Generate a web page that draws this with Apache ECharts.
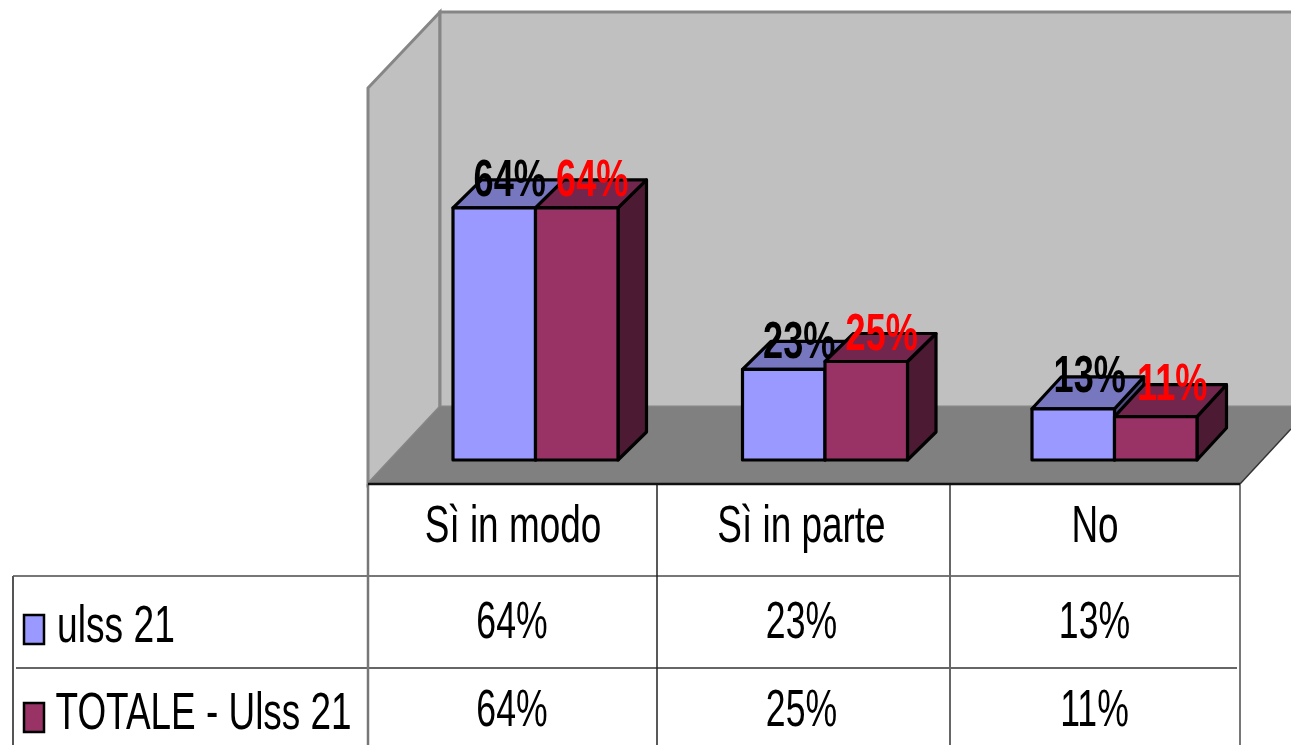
<!DOCTYPE html>
<html>
<head>
<meta charset="utf-8">
<style>html,body{margin:0;padding:0;background:#fff;overflow:hidden}#c{width:1291px;height:745px}</style>
<script src="https://cdn.jsdelivr.net/npm/echarts@6/dist/echarts.min.js"></script>
</head>
<body>
<div id="c"></div>
<script>
const categories = ['Sì in modo', 'Sì in parte', 'No'];
const seriesNames = ['ulss 21', 'TOTALE - Ulss 21'];
const ulss21 = [64, 23, 13];
const totale = [64, 25, 11];

const FONT = '"Liberation Sans", Arial, sans-serif';
const FS = 52;
const palette = [
  {front:'#9999ff', top:'#7777c0', side:'#4d4d80', label:'#000000'},
  {front:'#993366', top:'#73264d', side:'#4d1a33', label:'#ff0000'}
];
const BAR = 82.5;
const depthX = [28.5, 28.5, 29.5];
const depthY = [28, 28, 32];
const labelDX = [15.5, 15.5, 16.5];
const labelDY = [-26, -26, -31];

function scaledText(x, y, text, fill, sx) {
  return {type:'text', x, y, scaleX:sx, z:5, silent:true,
    style:{x:0, y:0, text, fill, font:FS+'px '+FONT, textAlign:'center', textVerticalAlign:'middle'}};
}
function poly(points, fill, stroke, w) {
  return {type:'polygon', z:0, silent:true, shape:{points}, style:{fill, stroke:stroke||null, lineWidth:w||0, lineJoin:'miter'}};
}
function line(x1,y1,x2,y2,stroke,w) {
  return {type:'line', z:1, silent:true, shape:{x1,y1,x2,y2}, style:{stroke, lineWidth:w}};
}
function boxRenderer(si) {
  return function(params, api) {
    const c = palette[si];
    const i = api.value(0);
    const DX = depthX[i], DY = depthY[i];
    const p0 = api.coord([i, 0]);
    const p1 = api.coord([i, api.value(1)]);
    const xl = p0[0] + (si === 0 ? -BAR : 0), xr = xl + BAR, yb = p0[1], yt = p1[1];
    const st = {stroke:'#000', lineWidth:3.2, lineJoin:'round'};
    const mk = (pts, fill) => ({type:'polygon', shape:{points:pts}, style:Object.assign({fill}, st)});
    return {type:'group', children:[
      mk([[xr,yb],[xr+DX,yb-DY],[xr+DX,yt-DY],[xr,yt]], c.side),
      mk([[xl,yt],[xl+DX,yt-DY],[xr+DX,yt-DY],[xr,yt]], c.top),
      mk([[xl,yb],[xr,yb],[xr,yt],[xl,yt]], c.front),
      {type:'text', x:(xl+xr)/2+labelDX[i], y:yt+labelDY[i], scaleX:0.695,
        style:{x:0, y:0, text:api.value(1)+'%', fill:c.label, font:'bold '+FS+'px '+FONT, textAlign:'center', textVerticalAlign:'middle'}}
    ]};
  };
}

const colX = [368, 657, 950, 1240];
const colStroke = [['#777',2.5],['#222',1.5],['#666',2],['#777',2]];
const headerX = [513, 801.5, 1095];
const valueX = [512, 801.5, 1094.5];
const rowY = [528, 624, 712];
const legendY = [628, 715];
const swatchY = [615, 703];
const graphics = [
  poly([[368,88],[440,12],[440,407],[368,484]], '#c0c0c0', '#868686', 3),
  poly([[440,12],[1295,12],[1295,407],[440,407]], '#c0c0c0', '#868686', 3),
  poly([[368,484],[440,407],[1291,407],[1291,429],[1240,484]], '#808080'),
  line(1240,484,1291,429,'#333',1.5),
  line(13,576,1240,576,'#777',2),
  line(16,668,1237,668,'#333',1.5),
  line(13,576,13,745,'#555',2)
];
colX.forEach((x,i) => graphics.push(line(x,484,x,745,colStroke[i][0],colStroke[i][1])));
graphics.push(line(368,484,1240,484,'#111',2.5));
categories.forEach((name,i) => {
  graphics.push(scaledText(headerX[i], rowY[0], name, '#000', 0.71));
  graphics.push(scaledText(valueX[i], rowY[1], ulss21[i]+'%', '#000', 0.685));
  graphics.push(scaledText(valueX[i], rowY[2], totale[i]+'%', '#000', 0.685));
});
seriesNames.forEach((name,i) => {
  graphics.push({type:'rect', z:3, silent:true, shape:{x:24, y:swatchY[i], width:20, height:29},
    style:{fill:palette[i].front, stroke:'#000', lineWidth:2.5}});
  const t = scaledText(i === 0 ? 57 : 55.5, legendY[i], name, '#000', i === 0 ? 0.715 : 0.71);
  t.style.textAlign = 'left';
  graphics.push(t);
});

const chart = echarts.init(document.getElementById('c'), null, {renderer:'canvas'});
chart.setOption({
  animation:false,
  backgroundColor:'#ffffff',
  grid:{left:390.75, top:66, width:868.5, height:394},
  xAxis:{type:'category', data:categories, show:false},
  yAxis:{type:'value', min:0, max:100, show:false},
  graphic:graphics,
  series:[
    {type:'custom', name:seriesNames[0], renderItem:boxRenderer(0), clip:false, z:3, silent:true,
     encode:{x:0,y:1}, data:categories.map((c,i)=>[i, ulss21[i]])},
    {type:'custom', name:seriesNames[1], renderItem:boxRenderer(1), clip:false, z:4, silent:true,
     encode:{x:0,y:1}, data:categories.map((c,i)=>[i, totale[i]])}
  ]
});
</script>
</body>
</html>
